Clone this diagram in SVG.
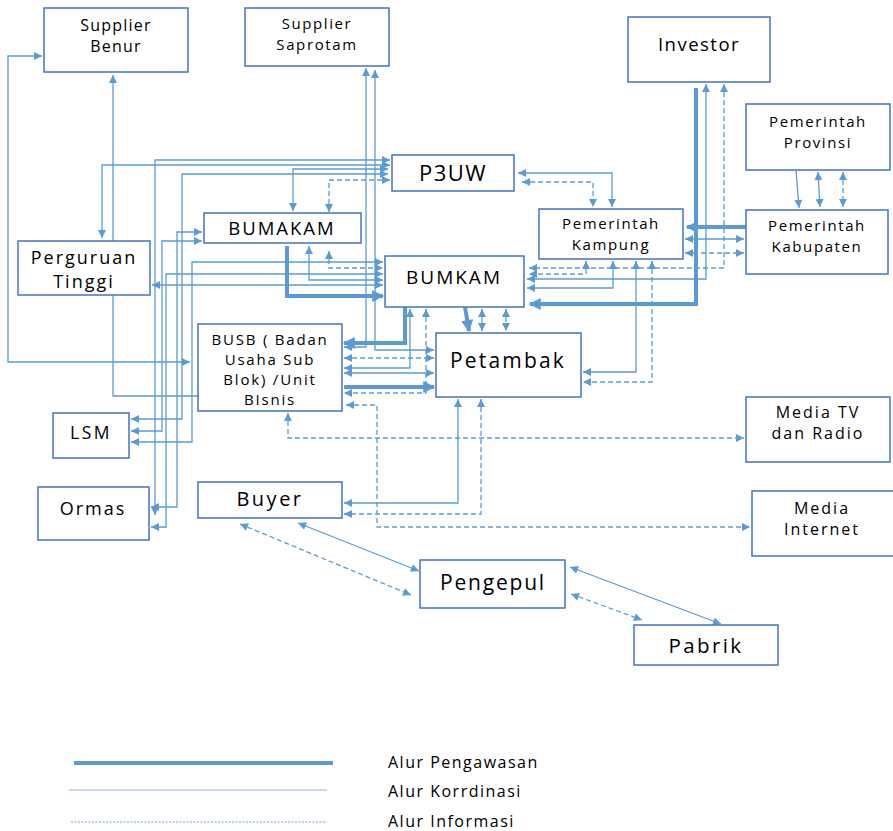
<svg xmlns="http://www.w3.org/2000/svg" width="893" height="831" viewBox="0 0 893 831">
  <style>
    .box { fill: #ffffff; stroke: #4472C4; stroke-width: 1.5; }
    .t { font-family: "Open Sans", "Noto Sans", "Liberation Sans", sans-serif; fill: #000000; text-anchor: middle; }
    .k { fill: none; stroke: #5B9BD5; stroke-width: 1.3; marker-start: url(#a); marker-end: url(#a); }
    .k1 { fill: none; stroke: #5B9BD5; stroke-width: 1.3; marker-end: url(#a); }
    .k0 { fill: none; stroke: #5B9BD5; stroke-width: 1.3; }
    .i { fill: none; stroke: #5B9BD5; stroke-width: 1.3; stroke-dasharray: 5 3; marker-start: url(#a); marker-end: url(#a); }
    .p { fill: none; stroke: #5B9BD5; stroke-width: 4; marker-end: url(#b); }
    .lg { font-family: "Open Sans", "Noto Sans", "Liberation Sans", sans-serif; fill: #000000; font-size: 16px; letter-spacing: 1.5px; }
  </style>
  <defs>
    <marker id="a" viewBox="0 0 10 10" refX="10" refY="5" markerUnits="userSpaceOnUse" markerWidth="9" markerHeight="8" orient="auto-start-reverse">
      <path d="M0,0 L10,5 L0,10 z" fill="#5B9BD5"/>
    </marker>
    <marker id="b" viewBox="0 0 10 10" refX="9" refY="5" markerUnits="userSpaceOnUse" markerWidth="14" markerHeight="12" orient="auto">
      <path d="M0,0 L10,5 L0,10 z" fill="#5B9BD5"/>
    </marker>
  </defs>
  <rect width="893" height="831" fill="#ffffff"/>

  <!-- connectors -->
  <g id="connectors">
    <!-- koordinasi (solid) -->
    <path class="k" d="M42,56 H8 V362 H190"/>
    <path class="k1" d="M113,241 V75"/>
    <path class="k0" d="M113,295 V396 H198"/>
    <path class="k" d="M390,165 H102 V238"/>
    <path class="k" d="M390,160 H155 V515"/>
    <path class="k" d="M388,169 H293 V211"/>
    <path class="k" d="M388,174 H182 V419 H131"/>
    <path class="k" d="M202,232 H177 V507 H151"/>
    <path class="k" d="M202,241 H162 V431 H131"/>
    <path class="k" d="M383,262 H192 V442 H131"/>
    <path class="k" d="M383,274 H166 V527 H151"/>
    <path class="k" d="M383,285 H152"/>
    <path class="k" d="M309,246 V280 H383"/>
    <path class="k" d="M366,68 V347 H344"/>
    <path class="k" d="M375,70 V350 H434"/>
    <path class="k" d="M410,309 V368 H344"/>
    <path class="k" d="M344,373 H434"/>
    <path class="k" d="M458,399 V503 H344"/>
    <path class="k" d="M298,523 L419,571"/>
    <path class="k" d="M570,567 L721,624"/>
    <path class="k" d="M482,309 V331"/>
    <path class="k" d="M518,173 H612 V207"/>
    <path class="k" d="M685,239 H744"/>
    <path class="k" d="M706,84 V279 H527"/>
    <path class="k" d="M613,261 V288 H527"/>
    <path class="k" d="M636,261 V372 H583"/>
    <path class="k1" d="M796,171 L799,208"/>
    <path class="k" d="M818,172 L820,207"/>

    <!-- informasi (dashed) -->
    <path class="i" d="M390,180 H329 V212"/>
    <path class="i" d="M329,251 V268 H383"/>
    <path class="i" d="M344,358 H434"/>
    <path class="i" d="M426,309 V393 H344"/>
    <path class="i" d="M346,405 H377 V527 H750"/>
    <path class="i" d="M288,413 V438 H744"/>
    <path class="i" d="M481,399 V514 H344"/>
    <path class="i" d="M240,524 L411,595"/>
    <path class="i" d="M571,594 L642,620"/>
    <path class="i" d="M506,309 V331"/>
    <path class="i" d="M522,182 H593 V207"/>
    <path class="i" d="M685,253 H744"/>
    <path class="i" d="M724,84 V268 H529"/>
    <path class="i" d="M586,261 V274 H529"/>
    <path class="i" d="M652,261 V382 H583"/>
    <path class="i" d="M843,172 V207"/>

    <!-- pengawasan (thick) -->
    <path class="p" d="M287,246 V296 H383"/>
    <path class="p" d="M405,307 V343 H344"/>
    <path class="p" d="M344,387 H434"/>
    <path class="p" d="M465,307 L469,331"/>
    <path class="p" d="M696,88 V304 H530"/>
    <path class="p" d="M746,227 H687"/>
  </g>

  <!-- nodes -->
  <g id="supplier-benur">
    <rect class="box" x="44" y="8" width="144" height="64"/>
    <text class="t" x="116" y="31" font-size="16" letter-spacing="1.2">Supplier</text>
    <text class="t" x="116" y="52" font-size="16" letter-spacing="1.2">Benur</text>
  </g>
  <g id="supplier-saprotam">
    <rect class="box" x="245" y="8" width="144" height="58"/>
    <text class="t" x="317" y="29" font-size="15" letter-spacing="1.6">Supplier</text>
    <text class="t" x="317" y="50" font-size="15" letter-spacing="1.6">Saprotam</text>
  </g>
  <g id="investor">
    <rect class="box" x="628" y="17" width="142" height="65"/>
    <text class="t" x="699" y="51" font-size="18.5" letter-spacing="1.5">Investor</text>
  </g>
  <g id="pemerintah-provinsi">
    <rect class="box" x="746" y="104" width="144" height="66"/>
    <text class="t" x="818" y="127" font-size="15" letter-spacing="1.6">Pemerintah</text>
    <text class="t" x="818" y="148" font-size="15" letter-spacing="1.6">Provinsi</text>
  </g>
  <g id="pemerintah-kabupaten">
    <rect class="box" x="746" y="210" width="142" height="64"/>
    <text class="t" x="817" y="231" font-size="15" letter-spacing="1.6">Pemerintah</text>
    <text class="t" x="817" y="252" font-size="15" letter-spacing="1.6">Kabupaten</text>
  </g>
  <g id="p3uw">
    <rect class="box" x="392" y="155" width="122" height="36"/>
    <text class="t" x="453" y="181" font-size="22" letter-spacing="1.5">P3UW</text>
  </g>
  <g id="pemerintah-kampung">
    <rect class="box" x="539" y="209" width="144" height="50"/>
    <text class="t" x="611" y="229" font-size="15" letter-spacing="1.6">Pemerintah</text>
    <text class="t" x="611" y="250" font-size="15" letter-spacing="1.6">Kampung</text>
  </g>
  <g id="bumakam">
    <rect class="box" x="204" y="213" width="157" height="30"/>
    <text class="t" x="282" y="235" font-size="18.5" letter-spacing="2">BUMAKAM</text>
  </g>
  <g id="perguruan-tinggi">
    <rect class="box" x="18" y="241" width="132" height="54"/>
    <text class="t" x="84" y="264" font-size="18" letter-spacing="2">Perguruan</text>
    <text class="t" x="84" y="288" font-size="18" letter-spacing="2">Tinggi</text>
  </g>
  <g id="bumkam">
    <rect class="box" x="385" y="256" width="139" height="51"/>
    <text class="t" x="454" y="284" font-size="19" letter-spacing="2">BUMKAM</text>
  </g>
  <g id="busb">
    <rect class="box" x="198" y="324" width="144" height="87"/>
    <text class="t" x="270" y="345" font-size="15" letter-spacing="1.8">BUSB ( Badan</text>
    <text class="t" x="270" y="365" font-size="15" letter-spacing="1.8">Usaha Sub</text>
    <text class="t" x="270" y="385" font-size="15" letter-spacing="1.8">Blok) /Unit</text>
    <text class="t" x="270" y="405" font-size="15" letter-spacing="1.8">BIsnis</text>
  </g>
  <g id="petambak">
    <rect class="box" x="436" y="333" width="145" height="64"/>
    <text class="t" x="508" y="368" font-size="21" letter-spacing="2.2">Petambak</text>
  </g>
  <g id="lsm">
    <rect class="box" x="53" y="413" width="76" height="45"/>
    <text class="t" x="91" y="439" font-size="17.5" letter-spacing="2.5">LSM</text>
  </g>
  <g id="ormas">
    <rect class="box" x="38" y="487" width="111" height="53"/>
    <text class="t" x="93" y="515" font-size="18" letter-spacing="2">Ormas</text>
  </g>
  <g id="buyer">
    <rect class="box" x="198" y="482" width="144" height="36"/>
    <text class="t" x="270" y="506" font-size="20" letter-spacing="2.5">Buyer</text>
  </g>
  <g id="media-tv-radio">
    <rect class="box" x="746" y="397" width="144" height="65"/>
    <text class="t" x="818" y="418" font-size="16" letter-spacing="2">Media TV</text>
    <text class="t" x="818" y="439" font-size="16" letter-spacing="2">dan Radio</text>
  </g>
  <g id="media-internet">
    <rect class="box" x="752" y="491" width="145" height="65"/>
    <text class="t" x="822" y="514" font-size="16" letter-spacing="2">Media</text>
    <text class="t" x="822" y="535" font-size="16" letter-spacing="2">Internet</text>
  </g>
  <g id="pengepul">
    <rect class="box" x="420" y="560" width="145" height="48"/>
    <text class="t" x="493" y="590" font-size="21" letter-spacing="1.8">Pengepul</text>
  </g>
  <g id="pabrik">
    <rect class="box" x="634" y="625" width="144" height="40"/>
    <text class="t" x="706" y="653" font-size="20.5" letter-spacing="2.4">Pabrik</text>
  </g>

  <!-- legend -->
  <g id="legend">
    <line x1="74" y1="763" x2="333" y2="763" stroke="#5B9BD5" stroke-width="4"/>
    <line x1="69" y1="790" x2="327" y2="790" stroke="#8FB6E4" stroke-width="1.2"/>
    <line x1="71" y1="822" x2="327" y2="822" stroke="#9DC3E6" stroke-width="1.5" stroke-dasharray="2 1.5"/>
    <text class="lg" x="388" y="768">Alur Pengawasan</text>
    <text class="lg" x="388" y="797">Alur Korrdinasi</text>
    <text class="lg" x="388" y="827">Alur Informasi</text>
  </g>
</svg>
